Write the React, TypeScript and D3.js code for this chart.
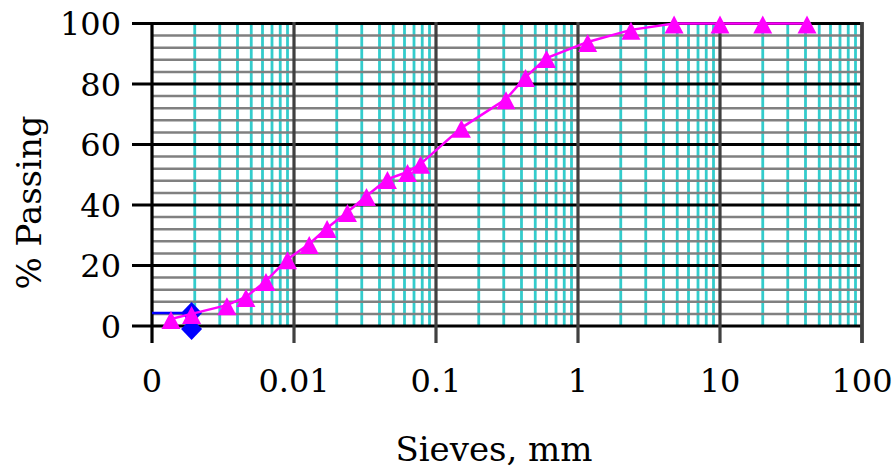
import React from "react";
import * as d3 from "d3";

// sieve sizes (mm) and % passing
const sieveSizes = [0.00136, 0.0019, 0.00337, 0.00459, 0.00635, 0.009, 0.0128, 0.0171, 0.0238, 0.0324, 0.0455, 0.063, 0.078, 0.151, 0.311, 0.427, 0.6, 1.17, 2.36, 4.75, 10, 20, 41];
const passing = [2.3, 4.0, 6.9, 9.6, 14.9, 22.1, 27.1, 32.4, 37.7, 43.0, 48.6, 50.9, 53.6, 65.5, 75.0, 82.3, 88.6, 93.9, 97.9, 100, 100, 100, 100];

// second (blue) series
const blueSizes = [0.001, 0.0019, 0.0019];
const bluePassing = [4.3, 4.3, -1];
const blueMarker = [false, true, true];

const xTicks = [0.001, 0.01, 0.1, 1, 10, 100];
const xTickLabels = ["0", "0.01", "0.1", "1", "10", "100"];
const yTicks = [0, 20, 40, 60, 80, 100];

const W = 893, H = 470;
const left = 152, right = 862, top = 23.5, bottom = 326;

const FONT = "'DejaVu Serif', serif";

export default function App() {
  const x = d3.scaleLog().domain([0.001, 100]).range([left, right]);
  const y = d3.scaleLinear().domain([0, 100]).range([bottom, top]);

  const minorX: number[] = [];
  for (let d = 0.001; d < 100; d *= 10) {
    for (let k = 2; k <= 9; k++) minorX.push(d * k);
  }
  const minorY = d3.range(0, 101, 4).filter((v) => v % 20 !== 0);

  const line = d3.line<number>()
    .x((_, i) => x(sieveSizes[i]))
    .y((d) => y(d));
  const blueLine = d3.line<number>()
    .x((_, i) => x(blueSizes[i]))
    .y((d) => y(d));

  const tri = "M0,-8 L9.5,10 L-9.5,10 Z";
  const diamond = "M0,-11 L10.5,0 L0,11 L-10.5,0 Z";

  return (
    <div style={{ position: "absolute", left: 0, top: 0 }}>
      <svg width={W} height={H} style={{ display: "block", background: "#fff" }}>
        {/* minor vertical grid */}
        {minorX.map((v, i) => (
          <line key={"mx" + i} x1={x(v)} x2={x(v)} y1={top} y2={bottom} stroke="#33CCCC" strokeWidth={2.8} />
        ))}
        {/* minor horizontal grid */}
        {minorY.map((v) => (
          <line key={"my" + v} x1={left} x2={right} y1={y(v)} y2={y(v)} stroke="#808080" strokeWidth={2.5} />
        ))}
        {/* major horizontal grid + ticks */}
        {yTicks.map((v) => (
          <line key={"My" + v} x1={132} x2={right} y1={y(v)} y2={y(v)} stroke="#000" strokeWidth={2.8} />
        ))}
        {/* major vertical grid + ticks */}
        {xTicks.map((v, i) => (
          <line key={"Mx" + v} x1={x(v)} x2={x(v)} y1={top - 1.4} y2={343}
            stroke={i === 0 ? "#000" : "#404040"} strokeWidth={i === xTicks.length - 1 ? 3.8 : 3.2} />
        ))}

        {/* blue series */}
        <path d={blueLine(bluePassing) || ""} fill="none" stroke="#0000FF" strokeWidth={2.5} />
        {bluePassing.map((v, i) => blueMarker[i] ? (
          <path key={"b" + i} d={diamond} transform={`translate(${x(blueSizes[i])},${y(v)})`} fill="#0000FF" />
        ) : null)}

        {/* magenta series */}
        <path d={line(passing) || ""} fill="none" stroke="#FF00FF" strokeWidth={2.5} />
        {passing.map((v, i) => (
          <path key={"p" + i} d={tri} transform={`translate(${x(sieveSizes[i])},${y(v)})`} fill="#FF00FF" />
        ))}

        {/* y tick labels */}
        {yTicks.map((v) => (
          <text key={"yl" + v} x={121} y={y(v) + 11.5} textAnchor="end" fontFamily={FONT} fontSize={32} fill="#000">
            {v}
          </text>
        ))}
        {/* x tick labels */}
        {xTicks.map((v, i) => (
          <text key={"xl" + v} x={x(v)} y={391.5} textAnchor="middle" fontFamily={FONT} fontSize={32} fill="#000">
            {xTickLabels[i]}
          </text>
        ))}

        <text x={494} y={461} textAnchor="middle" fontFamily={FONT} fontSize={34} fill="#000">
          Sieves, mm
        </text>
        <text transform="translate(41,202.5) rotate(-90)" textAnchor="middle" fontFamily={FONT} fontSize={34} fill="#000">
          % Passing
        </text>
      </svg>
    </div>
  );
}
